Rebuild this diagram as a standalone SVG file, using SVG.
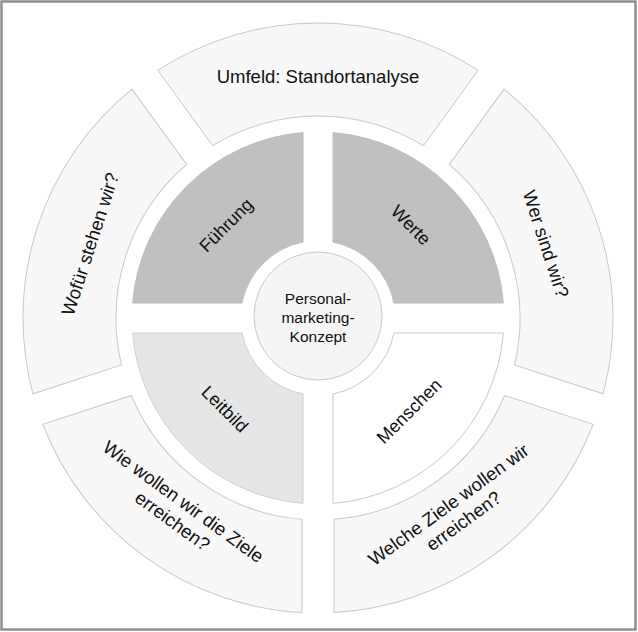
<svg xmlns="http://www.w3.org/2000/svg" width="638" height="632" viewBox="0 0 638 632">
  <style>
    .seg { fill: #f8f8f8; stroke: #c8c8c8; stroke-width: 1; }
    .dark { fill: #c0c0c0; stroke: #bdbdbd; stroke-width: 1; }
    .light { fill: #e6e6e6; stroke: #cfcfcf; stroke-width: 1; }
    .white { fill: #ffffff; stroke: #c8c8c8; stroke-width: 1; }
    .core { fill: #f5f5f5; stroke: #c8c8c8; stroke-width: 1; }
    text { font-family: "Liberation Sans", Arial, sans-serif; fill: #111111; text-anchor: middle; }
    .lbl { font-size: 18.5px; }
    .in { font-size: 18px; }
    .ctr { font-size: 15.5px; }
  </style>
  <rect x="1.5" y="1.5" width="634" height="628" fill="#ffffff" stroke="#8f8f8f" stroke-width="2.5"/>
  <defs>
    <path id="outerSeg" d="M 157.80 70.29 A 295 295 0 0 1 478.20 70.29 L 423.42 145.69 A 202 202 0 0 0 212.58 145.69 Z"/>
  </defs>
  <g id="connectors"></g>

  <g id="umfeld">
    <use href="#outerSeg" class="seg"/>
    <text class="lbl" x="318" y="77" dy="0.35em">Umfeld: Standortanalyse</text>
  </g>
  <g id="wer-sind-wir">
    <use href="#outerSeg" class="seg" transform="rotate(72 318 318)"/>
    <text class="lbl" x="546" y="244" dy="0.35em" transform="rotate(72 546 244)">Wer sind wir?</text>
  </g>
  <g id="welche-ziele">
    <use href="#outerSeg" class="seg" transform="rotate(144 318 318)"/>
    <text class="lbl" transform="translate(457 512) rotate(-36)">
      <tspan x="0" y="-11" dy="0.35em">Welche Ziele wollen wir</tspan>
      <tspan x="0" y="11" dy="0.35em">erreichen?</tspan>
    </text>
  </g>
  <g id="wie-wollen">
    <use href="#outerSeg" class="seg" transform="rotate(216 318 318)"/>
    <text class="lbl" transform="translate(179 512) rotate(36)">
      <tspan x="0" y="-11" dy="0.35em">Wie wollen wir die Ziele</tspan>
      <tspan x="0" y="11" dy="0.35em">erreichen?</tspan>
    </text>
  </g>
  <g id="wofuer">
    <use href="#outerSeg" class="seg" transform="rotate(288 318 318)"/>
    <text class="lbl" x="90" y="244" dy="0.35em" transform="rotate(-72 90 244)">Wofür stehen wir?</text>
  </g>

  <g id="fuehrung">
    <path class="dark" d="M 132.61 303 A 186 186 0 0 1 303 132.61 L 303 241.97 A 77.5 77.5 0 0 0 241.97 303 Z"/>
    <text class="in" x="226" y="225" dy="0.35em" transform="rotate(-45 226 225)">Führung</text>
  </g>
  <g id="werte">
    <path class="dark" d="M 333 132.61 A 186 186 0 0 1 503.39 303 L 394.03 303 A 77.5 77.5 0 0 0 333 241.97 Z"/>
    <text class="in" x="411" y="225" dy="0.35em" transform="rotate(45 411 225)">Werte</text>
  </g>
  <g id="leitbild">
    <path class="light" d="M 303 503.39 A 186 186 0 0 1 132.61 333 L 241.97 333 A 77.5 77.5 0 0 0 303 394.03 Z"/>
    <text class="in" x="225" y="409" dy="0.35em" transform="rotate(45 225 409)">Leitbild</text>
  </g>
  <g id="menschen">
    <path class="white" d="M 503.39 333 A 186 186 0 0 1 333 503.39 L 333 394.03 A 77.5 77.5 0 0 0 394.03 333 Z"/>
    <text class="in" x="409" y="411" dy="0.35em" transform="rotate(-45 409 411)">Menschen</text>
  </g>

  <g id="konzept">
    <circle class="core" cx="318" cy="316" r="64"/>
    <text class="ctr" x="318" y="299" dy="0.35em">Personal-</text>
    <text class="ctr" x="318" y="318" dy="0.35em">marketing-</text>
    <text class="ctr" x="318" y="337" dy="0.35em">Konzept</text>
  </g>
</svg>
